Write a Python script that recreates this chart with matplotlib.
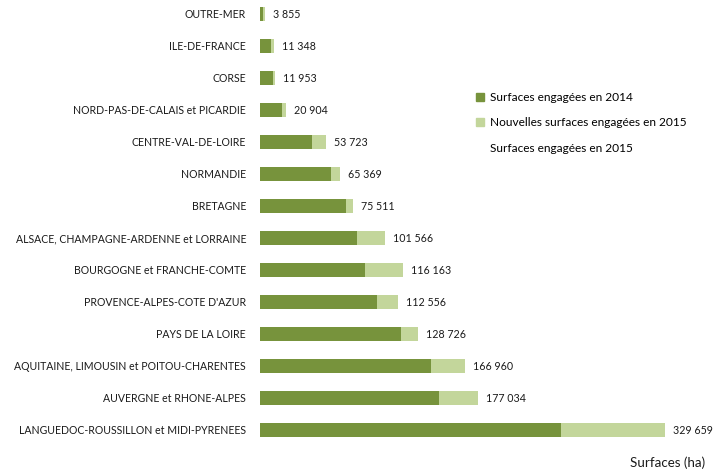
import matplotlib
matplotlib.use("Agg")
import matplotlib.pyplot as plt
from matplotlib.patches import Patch

plt.rcParams['font.family'] = ['Lato', 'DejaVu Sans']

regions = [
    "LANGUEDOC-ROUSSILLON et MIDI-PYRENEES",
    "AUVERGNE et RHONE-ALPES",
    "AQUITAINE, LIMOUSIN et POITOU-CHARENTES",
    "PAYS DE LA LOIRE",
    "PROVENCE-ALPES-COTE D'AZUR",
    "BOURGOGNE et FRANCHE-COMTE",
    "ALSACE, CHAMPAGNE-ARDENNE et LORRAINE",
    "BRETAGNE",
    "NORMANDIE",
    "CENTRE-VAL-DE-LOIRE",
    "NORD-PAS-DE-CALAIS et PICARDIE",
    "CORSE",
    "ILE-DE-FRANCE",
    "OUTRE-MER",
]
surf_2014 = [244900, 145800, 139300, 115100, 94800, 85500, 79300, 69800, 57800, 42100, 17500, 10800, 8900, 2700]
surf_2015_total = [329659, 177034, 166960, 128726, 112556, 116163, 101566, 75511, 65369, 53723, 20904, 11953, 11348, 3855]
new_2015 = [t - a for t, a in zip(surf_2015_total, surf_2014)]

dark = "#77933C"
light = "#C3D69B"

W, H = 713, 471
fig = plt.figure(figsize=(W / 100, H / 100), dpi=100)
ax = fig.add_axes([260 / W, (H - 446) / H, 440 / W, 446 / H])

y = list(range(len(regions)))
ax.barh(y, surf_2014, height=0.43, color=dark, label="Surfaces engagées en 2014")
ax.barh(y, new_2015, left=surf_2014, height=0.43, color=light,
        label="Nouvelles surfaces engagées en 2015")

for yi, tot in zip(y, surf_2015_total):
    ax.text(tot + 6500, yi, f"{tot:,}".replace(",", " "), va="center", ha="left",
            fontsize=7.7, color="#1a1a1a")

ax.set_xlim(0, 358000)
ax.set_ylim(-0.5, 13.4375)
ax.set_yticks(y)
ax.set_yticklabels(regions, fontsize=7.6, color="#1a1a1a")
ax.tick_params(axis="y", length=0, pad=10)
ax.set_xticks([])
for s in ax.spines.values():
    s.set_visible(False)

handles = [Patch(color=dark), Patch(color=light), Patch(color="none")]
labels = ["Surfaces engagées en 2014", "Nouvelles surfaces engagées en 2015",
          "Surfaces engagées en 2015"]
fig.legend(handles, labels, loc="upper left", bbox_to_anchor=(476 / W, 1 - 92 / H),
           frameon=False, fontsize=8.6, handlelength=0.65, handleheight=0.65,
           handletextpad=0.55, labelspacing=1.2, borderaxespad=0, borderpad=0)

fig.text(705 / W, 1 - 463 / H, "Surfaces (ha)", ha="right", va="center",
         fontsize=9.6, color="#1a1a1a")

fig.savefig("out.png", dpi=100)
